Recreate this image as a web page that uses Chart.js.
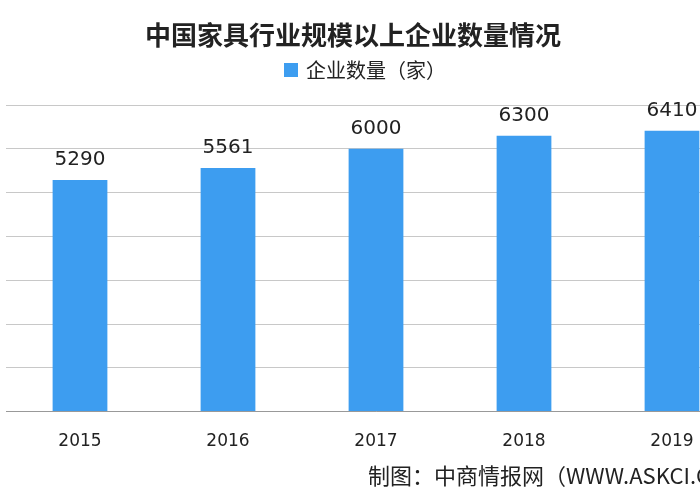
<!DOCTYPE html>
<html>
<head>
<meta charset="utf-8">
<script src="https://cdn.jsdelivr.net/npm/chart.js@4"></script>
<style>
  body { margin: 0; background: #fff; overflow: hidden; }
  #wrap { width: 700px; height: 500px; overflow: hidden; }
  #box { width: 760px; height: 500px; }
</style>
</head>
<body>
<div id="wrap"><div id="box"><canvas id="c"></canvas></div></div>
<script>
const years = ["2015", "2016", "2017", "2018", "2019"];
const companies = [5290, 5561, 6000, 6300, 6410];
const seriesName = "企业数量（家）";
const chartTitle = "中国家具行业规模以上企业数量情况";
const sourceNote = "制图：中商情报网（WWW.ASKCI.COM）";

const FONT = "'Noto Sans CJK SC', 'DejaVu Sans', sans-serif";
const BAR_COLOR = "#3d9df0";

// title, legend, value labels and source note (centred on the visible 700px)
const extras = {
  id: "extras",
  afterDatasetsDraw(chart) {
    const ctx = chart.ctx;
    const meta = chart.getDatasetMeta(0);
    ctx.save();
    ctx.fillStyle = "#222";
    ctx.font = "20px 'DejaVu Sans', sans-serif";
    ctx.textAlign = "center";
    ctx.textBaseline = "bottom";
    meta.data.forEach((bar, i) => {
      ctx.fillText(String(companies[i]), bar.x, bar.y - 10);
    });

    ctx.textBaseline = "middle";
    ctx.font = "bold 26px " + FONT;
    ctx.fillText(chartTitle, 353, 35);

    ctx.font = "20px " + FONT;
    ctx.textAlign = "left";
    const tw = ctx.measureText(seriesName).width;
    const lx = 365 - (tw + 22) / 2;
    ctx.fillStyle = BAR_COLOR;
    ctx.fillRect(lx, 63, 14, 14);
    ctx.fillStyle = "#222";
    ctx.fillText(seriesName, lx + 22, 70);

    ctx.font = "22px " + FONT;
    ctx.fillText(sourceNote, 368, 476);
    ctx.restore();
  },
};

new Chart(document.getElementById("c"), {
  type: "bar",
  data: {
    labels: years,
    datasets: [{
      label: seriesName,
      data: companies,
      backgroundColor: BAR_COLOR,
      categoryPercentage: 1,
      barPercentage: 0.37,
    }],
  },
  options: {
    responsive: true,
    maintainAspectRatio: false,
    animation: false,
    layout: { padding: { left: 6, right: 14, top: 105, bottom: 36 } },
    plugins: {
      title: { display: false },
      legend: { display: false },
      tooltip: { enabled: false },
    },
    scales: {
      x: {
        grid: { display: false },
        border: { color: "#999" },
        ticks: { color: "#222", font: { family: "'DejaVu Sans', sans-serif", size: 17 }, padding: 12 },
      },
      y: {
        min: 0,
        max: 7000,
        ticks: { display: false, stepSize: 1000 },
        border: { display: false },
        grid: { color: "#c8c8c8", drawTicks: false },
      },
    },
  },
  plugins: [extras],
});
</script>
</body>
</html>
